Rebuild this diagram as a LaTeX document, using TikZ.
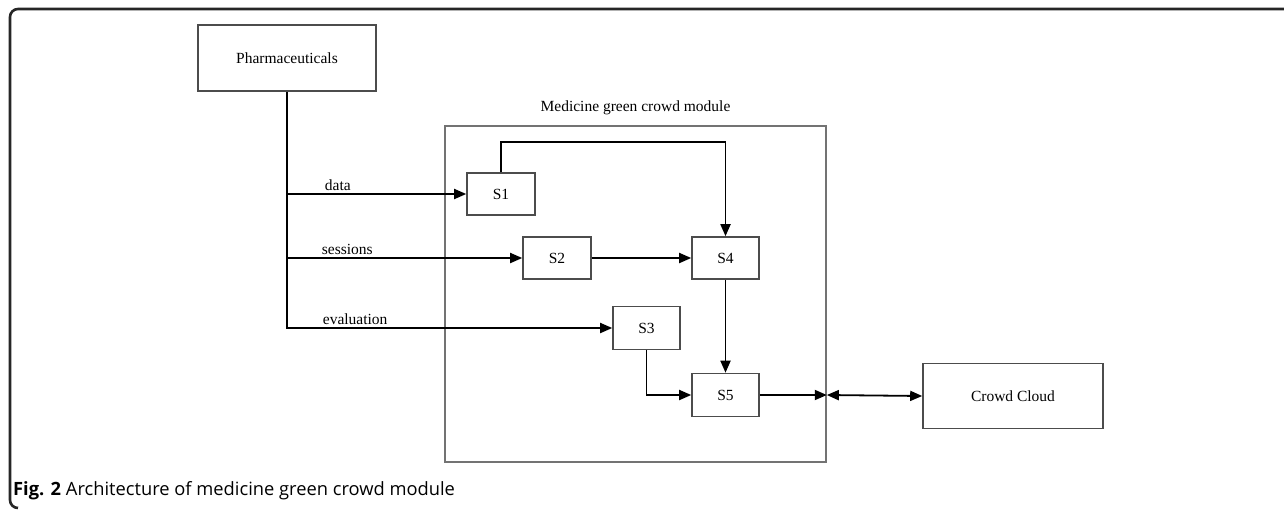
\documentclass[tikz,border=0pt]{standalone}
\usepackage{fontspec}
\setmainfont{Liberation Serif}
\newfontfamily\capfont{Open Sans}
\usepackage{tikz}
\usetikzlibrary{arrows.meta, positioning, calc}

\begin{document}
\begin{tikzpicture}[
    x=1pt, y=-1pt,
    box/.style={draw=black!70, line width=1.6pt, inner sep=0pt, font=\fontsize{15.5}{18}\selectfont},
    lbl/.style={font=\fontsize{15.5}{18}\selectfont, inner sep=2pt},
    conn/.style={line width=1.8pt},
    >={Triangle[length=12pt, width=10pt]}
]
\useasboundingbox (0,0) rectangle (1284,509);
% outer frame
\draw[line width=2.6pt, black!85, rounded corners=8pt] (18,508) -- (10,508) -- (10,9) -- (1284,9);

\node (module)  at (635.5, 294) [box, draw=black!55, minimum width=381pt, minimum height=336pt,
                                 label={[lbl, label distance=8pt]above:Medicine green crowd module}] {};
\node (pharma)  at (287, 58)    [box, minimum width=178pt, minimum height=66pt] {Pharmaceuticals};
\node (s1)      at (501, 194)   [box, minimum width=68pt, minimum height=42pt]  {S1};
\node (s2)      at (557, 258)   [box, minimum width=68pt, minimum height=42pt]  {S2};
\node (s4)      at (725.5, 258) [box, minimum width=67pt, minimum height=42pt]  {S4};
\node (s3)      at (646.5, 328) [box, minimum width=67pt, minimum height=43pt]  {S3};
\node (s5)      at (725.5, 395) [box, minimum width=67pt, minimum height=43pt]  {S5};
\node (cloud)   at (1013, 396)  [box, minimum width=180pt, minimum height=65pt] {Crowd Cloud};

\draw[conn, ->] (pharma.south) |- (s3.west) node[lbl, pos=0.5, above right, xshift=33pt] {evaluation};
\draw[conn, ->] (pharma.south |- s1.west) -- (s1.west) node[lbl, pos=0, above right, xshift=35pt] {data};
\draw[conn, ->] (pharma.south |- s2.west) -- (s2.west) node[lbl, pos=0, above right, xshift=32pt] {sessions};
\draw[conn, ->] (s1.north) -- ++(0,-30) -| (s4.north);
\draw[conn, ->] (s2) -- (s4);
\draw[conn, ->] (s4) -- (s5);
\draw[conn, ->] (s3.south) |- (s5.west);
\draw[conn, ->] (s5) -- (s5 -| module.east);
\draw[conn, <->] (s5 -| module.east) -- (cloud.west);

\node (caption) at (13, 495) [anchor=base west, inner sep=0pt, font=\capfont\fontsize{18.3}{21}\selectfont]
    {\textbf{Fig. 2} Architecture of medicine green crowd module};
\end{tikzpicture}
\end{document}
